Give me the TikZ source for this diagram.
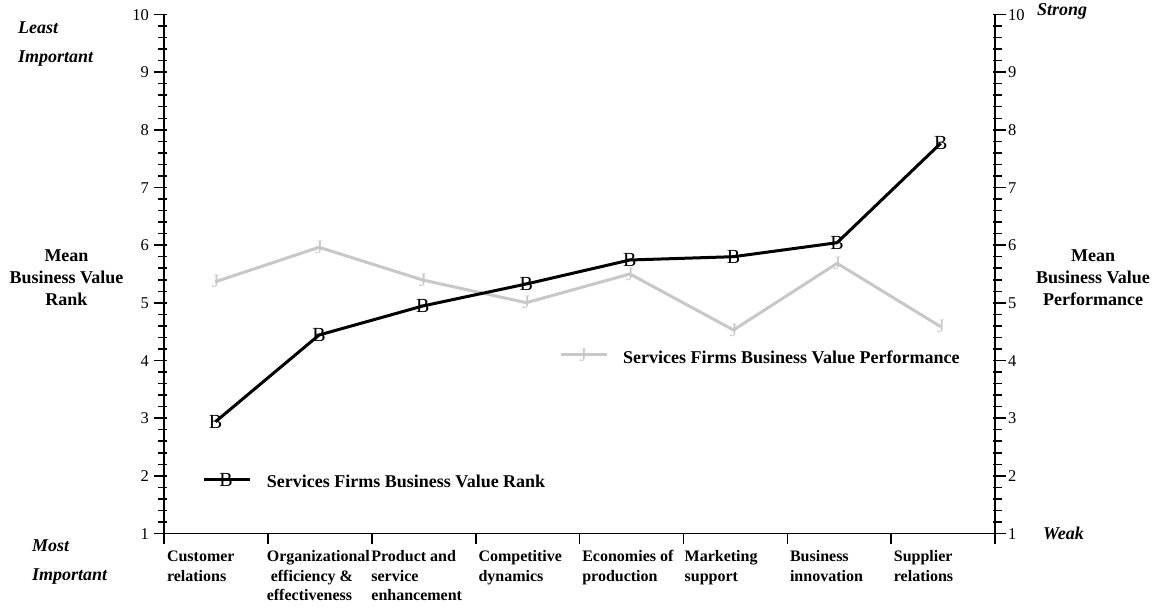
\documentclass[tikz,border=0pt]{standalone}
\usepackage{fontspec}
\setmainfont{Liberation Serif}
\definecolor{perfgray}{RGB}{200,200,200}
\begin{document}
\begin{tikzpicture}[x=1pt,y=-1pt,
  axis/.style={line width=1.8pt},
  tickmark/.style={line width=1.5pt},
  num/.style={font=\fontsize{16.5}{18}\selectfont, inner sep=0pt},
  cat/.style={font=\bfseries\fontsize{16}{19.5}\selectfont, inner sep=0pt, anchor=base west},
  side/.style={font=\bfseries\fontsize{18}{22}\selectfont, inner sep=0pt, anchor=base},
  endlab/.style={font=\bfseries\itshape\fontsize{18}{29}\selectfont, inner sep=0pt, anchor=base west},
  rankline/.style={line width=3pt, black, line join=round},
  perfline/.style={line width=3pt, perfgray, line join=round},
  bmark/.style={font=\fontsize{20}{20}\selectfont, inner sep=0pt, text=black},
  jmark/.style={font=\fontsize{19}{19}\selectfont, inner sep=0pt, text=perfgray},
  legtext/.style={font=\bfseries\fontsize{18}{22}\selectfont, inner sep=0pt, anchor=base west}
]
\useasboundingbox (0,0) rectangle (1159,609);
\fill[white] (0,0) rectangle (1159,609);

% axes
\draw[axis] (164.3,14.5) -- (164.3,543.5);
\draw[axis] (995,14.5) -- (995,543.5);
\draw[axis] (164.3,533.5) -- (995,533.5);

% minor ticks
\foreach \k in {0,...,45} {
  \pgfmathsetmacro\yy{533.5-\k*11.534}
  \draw[tickmark] (158,\yy) -- (166.5,\yy);
  \draw[tickmark] (993,\yy) -- (1001.5,\yy);
}
% major ticks and numbers
\foreach \v in {1,...,10} {
  \pgfmathsetmacro\yy{533.5-(\v-1)*57.67}
  \draw[tickmark] (153.5,\yy) -- (164.3,\yy);
  \draw[tickmark] (995,\yy) -- (1005.5,\yy);
  \node[num, anchor=base east] (l\v) at (149,\yy+5.8) {\v};
  \node[num, anchor=base west] (r\v) at (1008,\yy+5.8) {\v};
}
% category ticks
\foreach \i in {1,...,7} {
  \pgfmathsetmacro\xx{164.3+\i*103.84}
  \draw[tickmark] (\xx,533.5) -- (\xx,543.5);
}

% category labels
\node[cat] (c1) at (166.8,561.5) {\begin{tabular}[t]{@{}l@{}}Customer\\relations\end{tabular}};
\node[cat] (c2) at (266.6,561.5) {\begin{tabular}[t]{@{}l@{}}Organizational\\\ efficiency \&\\effectiveness\end{tabular}};
\node[cat] (c3) at (371.2,561.5) {\begin{tabular}[t]{@{}l@{}}Product and\\service\\enhancement\end{tabular}};
\node[cat] (c4) at (478.3,561.5) {\begin{tabular}[t]{@{}l@{}}Competitive\\dynamics\end{tabular}};
\node[cat] (c5) at (582.1,561.5) {\begin{tabular}[t]{@{}l@{}}Economies of\\production\end{tabular}};
\node[cat] (c6) at (684.5,561.5) {\begin{tabular}[t]{@{}l@{}}Marketing\\support\end{tabular}};
\node[cat] (c7) at (789.8,561.5) {\begin{tabular}[t]{@{}l@{}}Business\\innovation\end{tabular}};
\node[cat] (c8) at (893.7,561.5) {\begin{tabular}[t]{@{}l@{}}Supplier\\relations\end{tabular}};

% side labels
\node[side] (lefttitle) at (66.5,262) {\begin{tabular}[t]{@{}c@{}}Mean\\Business Value\\Rank\end{tabular}};
\node[side] (righttitle) at (1093,262) {\begin{tabular}[t]{@{}c@{}}Mean\\Business Value\\Performance\end{tabular}};
\node[endlab] (least) at (18,33.3) {\begin{tabular}[t]{@{}l@{}}Least\\Important\end{tabular}};
\node[endlab] (most) at (32,551.7) {\begin{tabular}[t]{@{}l@{}}Most\\Important\end{tabular}};
\node[endlab] (strong) at (1037,16) {Strong};
\node[endlab] (weak) at (1043,539) {Weak};

% performance series (gray)
\foreach \n/\x/\y in {1/215.5/281.7, 2/319.1/247.3, 3/422.7/280, 4/526.3/302.7,
                      5/629.9/274, 6/733.5/330, 7/837.1/263.3, 8/940.7/326.7}
  \node[jmark] (g\n) at (\x,\y) {J};
\draw[perfline] (g1.center) -- (g2.center) -- (g3.center) -- (g4.center)
  -- (g5.center) -- (g6.center) -- (g7.center) -- (g8.center);

% rank series (black)
\foreach \n/\x/\y in {1/215.5/421.7, 2/319.1/335, 3/422.7/306, 4/526.3/284,
                      5/629.9/260, 6/733.5/256.7, 7/837.1/242.7, 8/940.7/143.3}
  \node[bmark] (b\n) at (\x,\y) {B};
\draw[rankline] (b1.center) -- (b2.center) -- (b3.center) -- (b4.center)
  -- (b5.center) -- (b6.center) -- (b7.center) -- (b8.center);

% legends
\coordinate (lbs) at (204,479.3);
\coordinate (lbe) at (250,479.3);
\draw[rankline] (lbs) -- (lbe);
\node[bmark] (lbm) at (226,479.8) {B};
\node[legtext] (lbt) at (266.7,487.5) {Services Firms Business Value Rank};

\coordinate (lgs) at (561,355);
\coordinate (lge) at (607,355);
\draw[perfline] (lgs) -- (lge);
\node[jmark] (lgm) at (583,355.5) {J};
\node[legtext] (lgt) at (623,363) {Services Firms Business Value Performance};
\end{tikzpicture}
\end{document}
